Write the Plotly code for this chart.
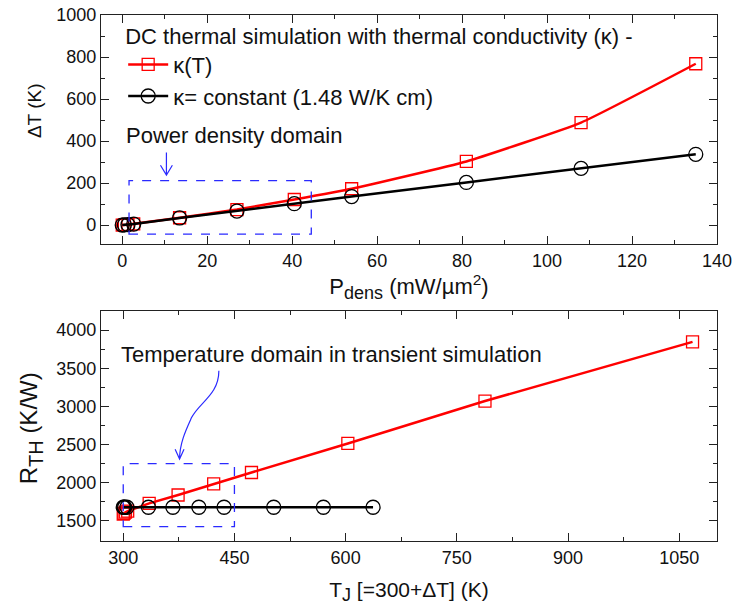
import plotly.graph_objects as go
from plotly.subplots import make_subplots

# ---- data ----
P_dens = [0, 0.5, 1.35, 2.7, 13.5, 27, 40.5, 54, 81, 108, 135]          # mW/um^2
dT_kappaT = [0, 1, 3, 6, 35, 74, 122, 173, 303, 488, 768]                # K
dT_const = [0, 1, 2, 5, 34, 67, 102, 136, 203, 270, 337]                 # K
Rth_kappaT = [1590, 1600, 1615, 1630, 1730, 1840, 1985, 2135, 2515, 3070, 3845]  # K/W
Rth_const = [1680, 1680, 1680, 1680, 1680, 1680, 1680, 1680, 1680, 1680, 1680]  # K/W
T_base = 300
Tj_kappaT = [T_base + d for d in dT_kappaT]
Tj_const = [T_base + d for d in dT_const]

name_kT = "\u03ba(T)"
name_const = "\u03ba= constant (1.48 W/K cm)"
legend_title = "DC thermal simulation with thermal conductivity (\u03ba) -"

RED = "#ff0000"
BLK = "#000000"
BLUE = "#2a2aff"
FONT = "Liberation Sans, Arial, sans-serif"
TXT = 22

fig = make_subplots(rows=2, cols=1, vertical_spacing=0.127)

mk_sq = dict(symbol="square-open", size=12, color=RED, line=dict(width=1.3))
mk_ci = dict(symbol="circle-open", size=14, color=BLK, line=dict(width=1.3))

fig.add_trace(go.Scatter(x=P_dens, y=dT_kappaT, mode="lines+markers", name=name_kT,
                         line=dict(color=RED, width=2.5, shape="spline", smoothing=0.4),
                         marker=mk_sq), row=1, col=1)
fig.add_trace(go.Scatter(x=P_dens, y=dT_const, mode="lines+markers", name=name_const,
                         line=dict(color=BLK, width=2.5), marker=mk_ci), row=1, col=1)
fig.add_trace(go.Scatter(x=Tj_kappaT, y=Rth_kappaT, mode="lines+markers", showlegend=False,
                         line=dict(color=RED, width=2.5), marker=mk_sq), row=2, col=1)
fig.add_trace(go.Scatter(x=Tj_const, y=Rth_const, mode="lines+markers", showlegend=False,
                         line=dict(color=BLK, width=2.5), marker=mk_ci), row=2, col=1)

axis_common = dict(showgrid=False, zeroline=False, showline=True, linecolor="#222",
                   linewidth=1.3, mirror="ticks", ticks="inside", ticklen=8,
                   tickcolor="#222", automargin=False,
                   tickfont=dict(size=18, color="#111", family=FONT))

def sub(s, size=18):
    return "<sub><span style='font-size:%dpx'>%s</span></sub>" % (size, s)

fig.update_xaxes(**axis_common, range=[-5, 140], tick0=0, dtick=20,
                 minor=dict(ticks="inside", ticklen=4, dtick=10, tickcolor="#222"),
                 title=dict(text="P" + sub("dens") + " (mW/\u00b5m<sup>2</sup>)",
                            font=dict(size=22, family=FONT), standoff=4),
                 row=1, col=1)
fig.update_yaxes(**axis_common, range=[-90, 1000], tick0=0, dtick=200,
                 minor=dict(ticks="inside", ticklen=4, dtick=100, tickcolor="#222"),
                 row=1, col=1)
fig.update_xaxes(**axis_common, range=[270, 1101], tick0=300, dtick=150,
                 minor=dict(ticks="inside", ticklen=4, dtick=75, tickcolor="#222"),
                 title=dict(text="T" + sub("J") + " [=300+\u0394T] (K)",
                            font=dict(size=21, family=FONT), standoff=15),
                 row=2, col=1)
fig.update_yaxes(**axis_common, range=[1238, 4249], tick0=1500, dtick=500,
                 minor=dict(ticks="inside", ticklen=4, dtick=250, tickcolor="#222"),
                 row=2, col=1)

# y-axis titles placed as rotated paper annotations
fig.add_annotation(xref="paper", yref="paper", x=-0.107, y=0.8175, text="\u0394T (K)",
                   textangle=-90, showarrow=False, xanchor="center", yanchor="middle",
                   font=dict(size=19, family=FONT, color="#111"))
fig.add_annotation(xref="paper", yref="paper", x=-0.113, y=0.215,
                   text="R" + sub("TH", 20) + " (K/W)",
                   textangle=-90, showarrow=False, xanchor="center", yanchor="middle",
                   font=dict(size=24, family=FONT, color="#111"))

# domain boxes
fig.add_shape(type="rect", xref="x", yref="y", x0=1.6, x1=44.5, y0=-43, y1=212,
              line=dict(color=BLUE, width=1.3, dash="dash"))
fig.add_shape(type="rect", xref="x2", yref="y2", x0=300, x1=450, y0=1425, y1=2250,
              line=dict(color=BLUE, width=1.3, dash="dash"))

# arrows
fig.add_shape(type="path", xref="x", yref="y",
              path="M 10.4 345 L 10.4 238 M 9.0 285 L 10.4 238 L 11.8 285",
              line=dict(color=BLUE, width=1.2))
fig.add_shape(type="path", xref="x2", yref="y2",
              path="M 429 3467 C 429 3150 402 3050 392 2850 C 385 2700 376 2520 376 2310 "
                   "M 370 2440 L 376 2310 L 382 2440",
              line=dict(color=BLUE, width=1.2))

fig.add_annotation(xref="x", yref="y", x=0.3, y=428, text="Power density domain",
                   showarrow=False, xanchor="left", yanchor="middle",
                   font=dict(size=TXT, family=FONT, color="#111"))
fig.add_annotation(xref="x2", yref="y2", x=294, y=3673, text="Temperature domain in transient simulation",
                   showarrow=False, xanchor="left", yanchor="middle",
                   font=dict(size=TXT, family=FONT, color="#111"))

fig.update_layout(
    width=734, height=608,
    margin=dict(l=101, r=17, t=15, b=67),
    paper_bgcolor="white", plot_bgcolor="white",
    font=dict(family=FONT, color="#111"),
    legend=dict(x=0.036, y=1.0, xanchor="left", yanchor="top",
                bgcolor="rgba(0,0,0,0)", font=dict(size=TXT, family=FONT),
                title=dict(text=legend_title, side="top", font=dict(size=TXT, family=FONT)),
                itemwidth=40, tracegroupgap=0),
)
fig.update_layout(yaxis=dict(domain=[0.5646, 1.0]), yaxis2=dict(domain=[0.0, 0.4373]))

fig.write_html("out.html", config={"displayModeBar": False},
               post_script="document.body.style.margin='0px';")
